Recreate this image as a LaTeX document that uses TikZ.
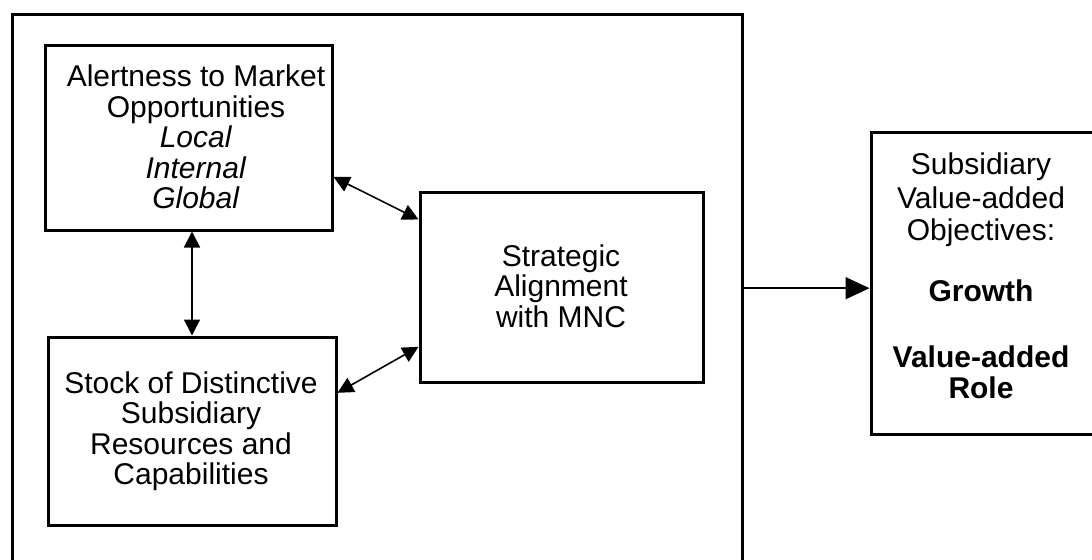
\documentclass[tikz,border=0pt]{standalone}
\usepackage{fontspec}
\setmainfont{Liberation Sans}
\usetikzlibrary{arrows.meta,calc}
\begin{document}
\begin{tikzpicture}[x=0.5pt,y=-0.5pt,
  box/.style={draw, line width=1.5pt, inner sep=0pt},
  lbl/.style={align=center, inner sep=0pt, font=\fontsize{15}{15.25}\selectfont},
  link/.style={line width=0.8pt, {Triangle[length=8pt,width=8pt]}-{Triangle[length=8pt,width=8pt]}},
  outlink/.style={line width=0.8pt, -{Triangle[length=12pt,width=11pt]}}]
\useasboundingbox (0,0) rectangle (1092,559);
\clip (0,0) rectangle (1092,559);
\fill[white] (0,0) rectangle (1092,559);

% enclosing frame of the subsidiary's capabilities
\node[box, minimum width=365pt, minimum height=303pt] (frame) at (377,317) {};

% boxes
\node[box, minimum width=143.5pt, minimum height=92.5pt] (A) at (188.5,137.5) {};
\node[box, minimum width=144pt, minimum height=94pt] (B) at (192,431) {};
\node[box, minimum width=141.5pt, minimum height=95pt] (C) at (561.5,287) {};
\node[box, minimum width=111.5pt, minimum height=151pt] (D) at (982.5,283) {};

% texts
\node[lbl] (atext) at (196,137) {Alertness to Market\\Opportunities\\\textit{Local}\\\textit{Internal}\\\textit{Global}};
\node[lbl] (btext) at (191,431) {Stock of Distinctive\\Subsidiary\\Resources and\\Capabilities};
\node[lbl] (ctext) at (561,286) {Strategic\\Alignment\\with MNC};
\node[lbl] (dtext) at (981,276) {Subsidiary\\[1.5pt]Value-added\\[1pt]Objectives:\\[15pt]\textbf{Growth}\\[18pt]\textbf{Value-added}\\\textbf{Role}};

% connectors
\draw[link] (A.south -| B.north) -- (B.north);
\draw[link] ($(A.north east)!0.71!(A.south east)$) -- ($(C.north west)!0.15!(C.south west)$);
\draw[link] ($(B.north east)!0.30!(B.south east)$) -- ($(C.north west)!0.81!(C.south west)$);
\coordinate (dIn) at ($(D.north west)!0.517!(D.south west)$);
\draw[outlink] (frame.east |- dIn) -- (dIn);
\end{tikzpicture}
\end{document}
